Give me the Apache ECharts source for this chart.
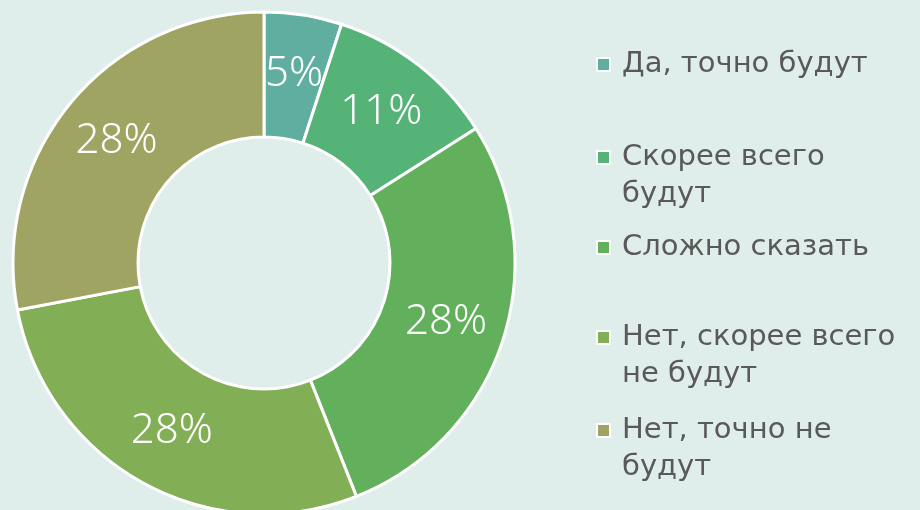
<!DOCTYPE html>
<html>
<head>
<meta charset="utf-8">
<script src="https://cdn.jsdelivr.net/npm/echarts@6/dist/echarts.min.js"></script>
<style>
  html, body { margin: 0; padding: 0; background: #dfeeeb; }
  #main { width: 920px; height: 510px; }
</style>
</head>
<body>
<div id="main"></div>
<script>
// данные опроса
const categories = ['Да, точно будут', 'Скорее всего будут', 'Сложно сказать', 'Нет, скорее всего не будут', 'Нет, точно не будут']
const legendLabels = ['Да, точно будут', 'Скорее всего\nбудут', 'Сложно сказать', 'Нет, скорее всего\nне будут', 'Нет, точно не\nбудут']
const shares = [5, 11, 28, 28, 28]
const colors = ['#5fae9f', '#55b378', '#62b05c', '#82ae55', '#a0a463']
const legendTops = [64, 157, 247, 337, 430]

const chart = echarts.init(document.getElementById('main'))

// одна легенда на пункт, чтобы повторить неровные отступы
// для двухстрочных пунктов значок вытянут вниз пустым отрезком, чтобы квадрат стоял у первой строки
const legends = categories.map(function(name, i) {
  const twoLines = legendLabels[i].indexOf('\n') >= 0
  return {
    data: [name],
    left: 596,
    top: legendTops[i] - 18,
    padding: 0,
    orient: 'vertical',
    selectedMode: false,
    icon: twoLines ? 'path://M0,0L13,0L13,13L0,13Z M0,50L0,50' : 'rect',
    itemWidth: 13,
    itemHeight: twoLines ? 50 : 13,
    itemGap: 0,
    itemStyle: { borderColor: '#fff', borderWidth: 2 },
    formatter: function() { return legendLabels[i] },
    textStyle: {
      fontFamily: 'DejaVu Sans',
      fontSize: 29,
      color: '#595959',
      lineHeight: 37,
      padding: [0, 0, 0, 7]
    }
  }
})

chart.setOption({
  backgroundColor: '#dfeeeb',
  color: colors,
  legend: legends,
  series: [{
    type: 'pie',
    radius: [126, 251],
    center: [264, 263],
    startAngle: 90,
    clockwise: true,
    avoidLabelOverlap: false,
    itemStyle: { borderColor: '#ffffff', borderWidth: 3 },
    label: {
      show: true,
      position: 'inside',
      color: '#ffffff',
      fontFamily: 'Noto Sans',
      fontWeight: 300,
      fontSize: 42,
      formatter: function(p) { return p.value + '%' }
    },
    labelLine: { show: false },
    emphasis: { disabled: true },
    data: categories.map(function(name, i) {
      return { name: name, value: shares[i] }
    })
  }]
})
</script>
</body>
</html>
